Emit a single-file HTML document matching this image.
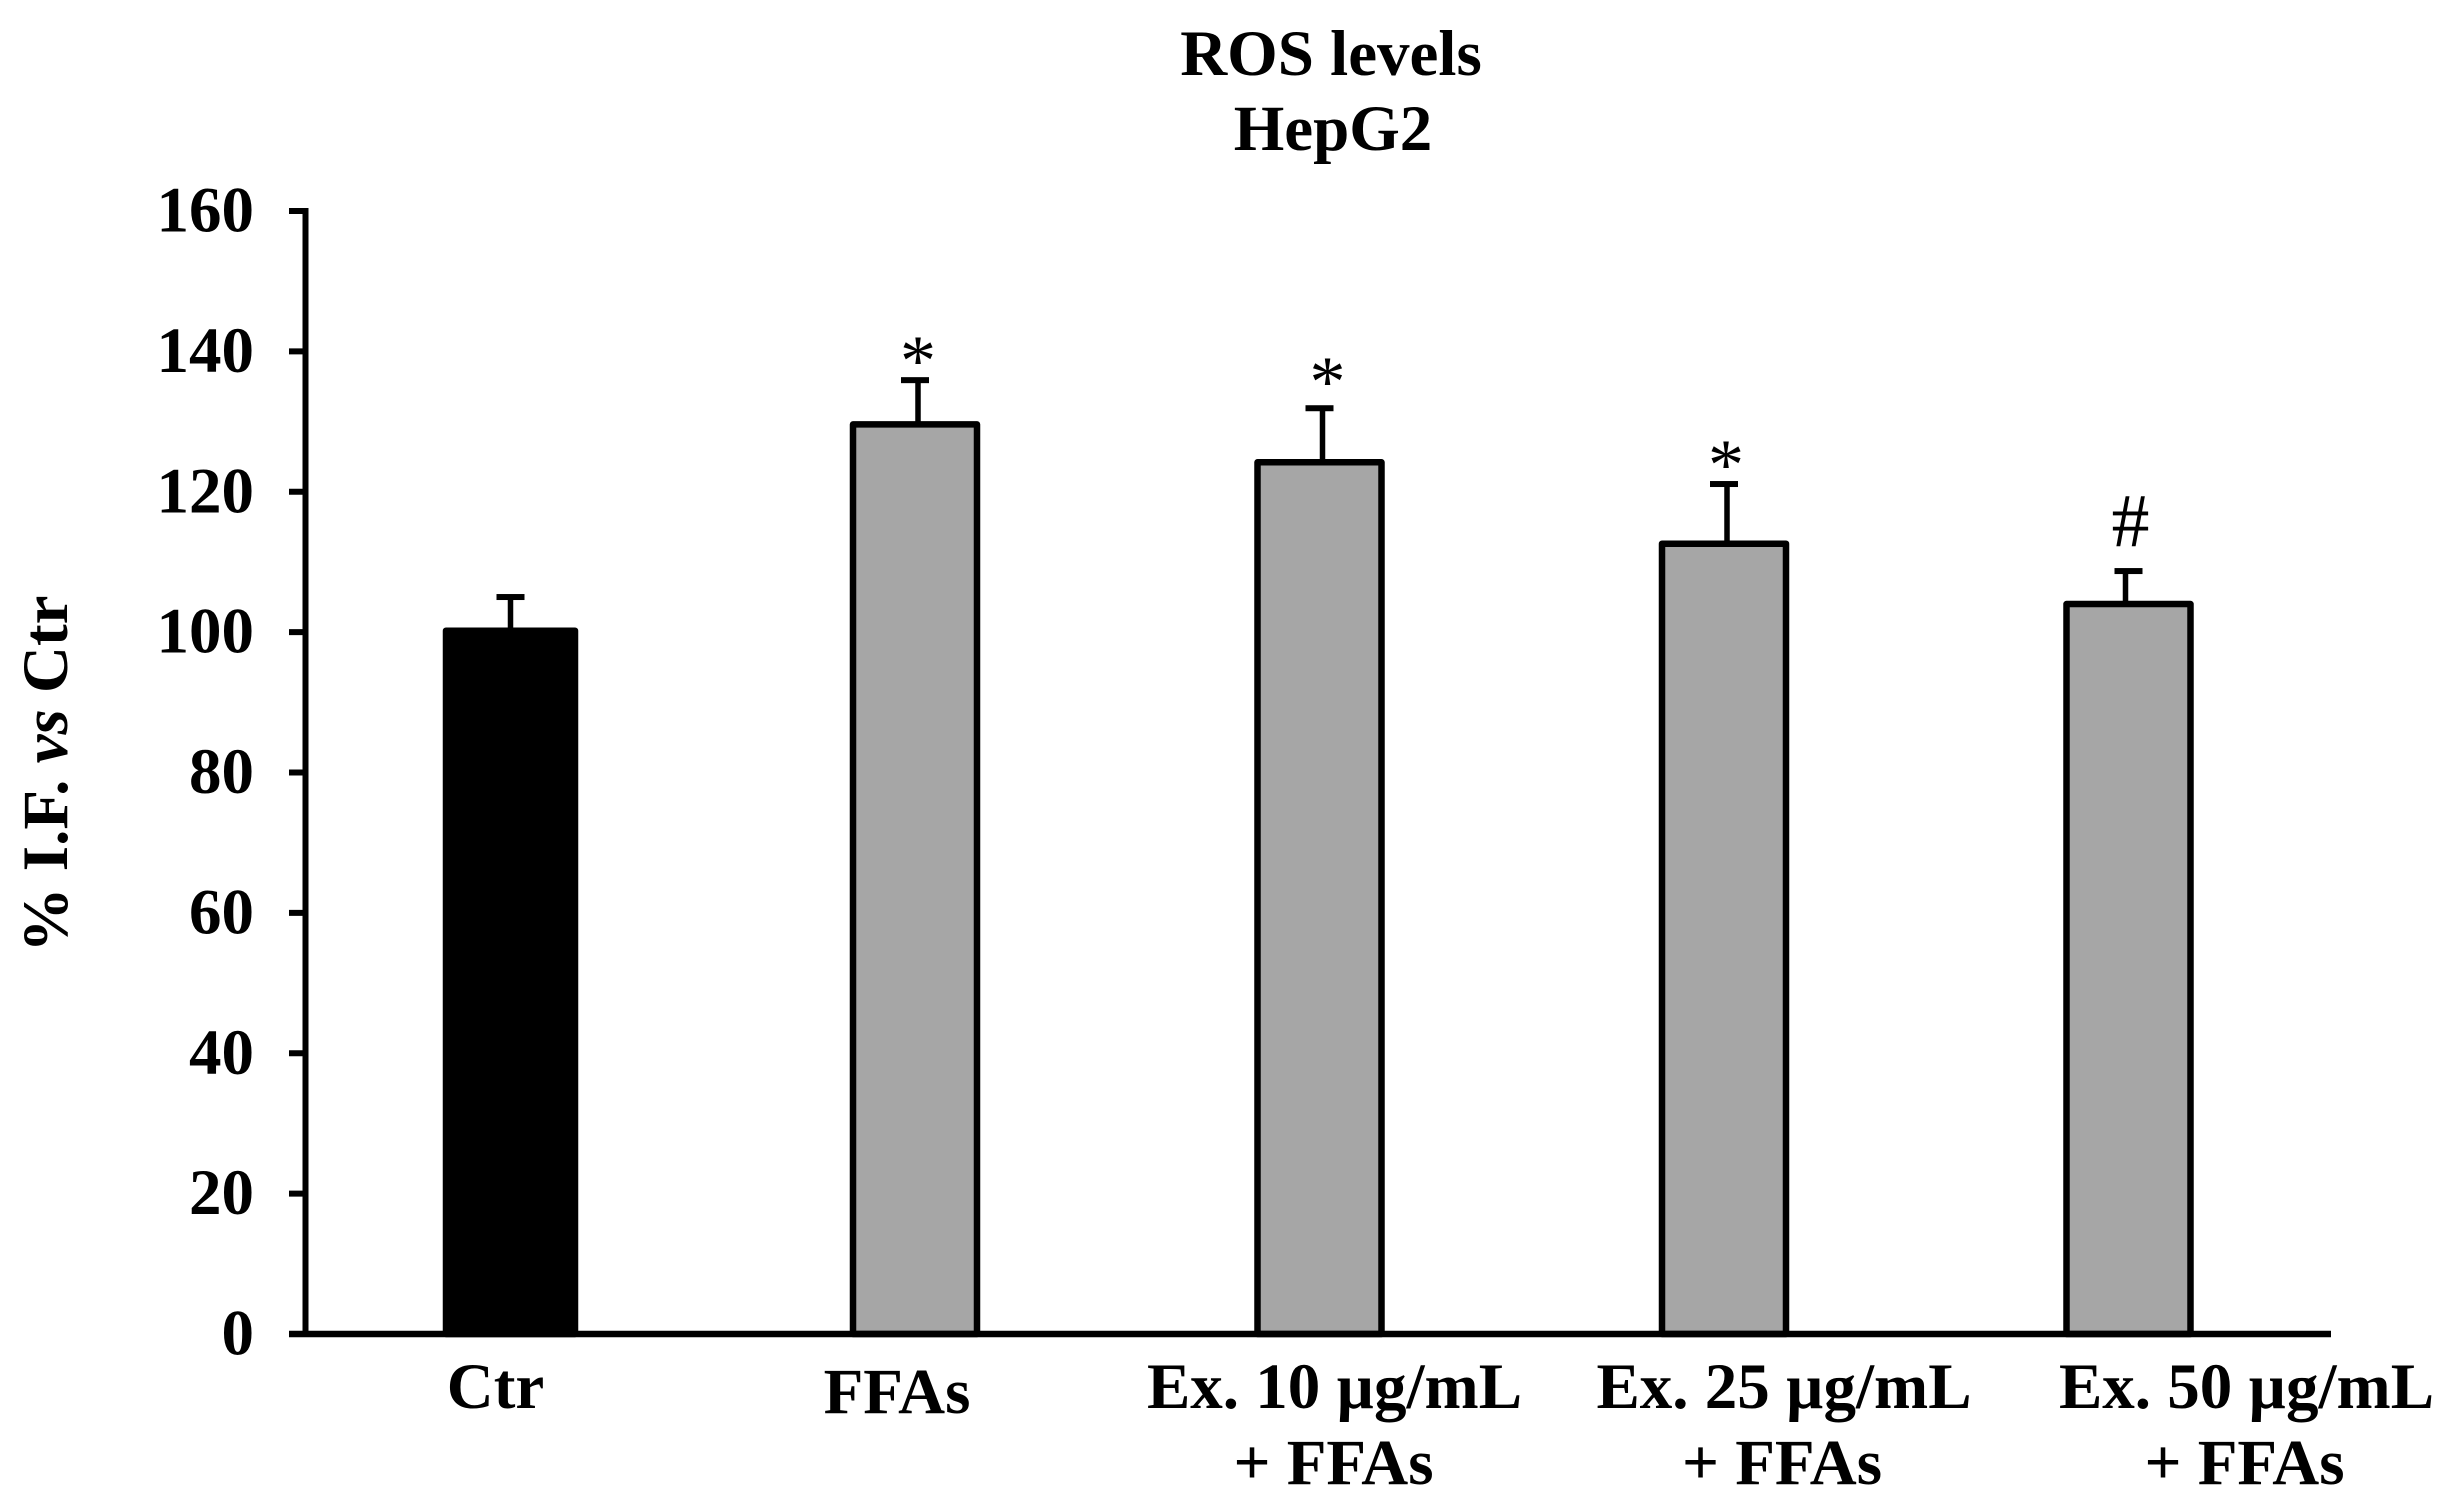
<!DOCTYPE html>
<html lang="en">
<head>
<meta charset="utf-8">
<title>ROS levels HepG2</title>
<style>
  html, body { margin: 0; padding: 0; background: #fff; }
  body { width: 2452px; height: 1509px; overflow: hidden; }
  svg { display: block; }
  text { font-family: "Liberation Serif", "Times New Roman", serif; fill: #000; }
  .bold { font-weight: 700; font-size: 65px; }
</style>
</head>
<body>
<svg id="chart" xmlns="http://www.w3.org/2000/svg" width="2452" height="1509" viewBox="0 0 2452 1509">
  <rect x="0" y="0" width="2452" height="1509" fill="#ffffff"/>
  <text class="bold" x="1331" y="75" text-anchor="middle">ROS levels</text>
  <text class="bold" x="1333" y="150" text-anchor="middle">HepG2</text>
  <text class="bold" transform="translate(67 774) rotate(-90)" text-anchor="middle">% I.F. <tspan font-style="italic">vs</tspan> Ctr</text>
  <g id="bars"></g>
  <g id="errors"></g>
  <g id="marks"></g>
  <g id="axes"></g>
  <g id="cats"></g>
</svg>
<script>
const categories = ['Ctr', 'FFAs', 'Ex. 10 µg/mL', 'Ex. 25 µg/mL', 'Ex. 50 µg/mL'];
const categoriesLine2 = ['', '', '+ FFAs', '+ FFAs', '+ FFAs'];
const values = [100.2, 129.6, 124.2, 112.6, 104];
const errorValues = [4.8, 6.3, 7.7, 8.5, 4.7];
const significance = ['', '*', '*', '*', '#'];
const yTicks = [0, 20, 40, 60, 80, 100, 120, 140, 160];

const NS = 'http://www.w3.org/2000/svg';
const Y0 = 1334, YTOP = 211, YMAX = 160;
function yScale(v) { return Y0 - v * (Y0 - YTOP) / YMAX; }
function xScale(i) { return 510.5 + 404.5 * i; }
function stemNudge(i) { return i === 0 ? 0 : (i === 4 ? -3 : 3); }
function labelNudge(i) { return i === 0 ? -15 : i === 1 ? -18 : i === 2 ? 15 : i === 3 ? 60 : 118; }
function line2Nudge(i) { return i === 2 ? 14 : i === 3 ? 58 : 116; }
function labelBaseline(i) { return i === 1 ? 1413 : 1408; }
function markOffset(i) { return i === 4 ? -25 : i === 2 ? -24 : -17; }
function markNudge(i) { return i === 1 ? 3 : i === 2 ? 8 : i === 3 ? 2 : 2; }
function make(tag, attrs, parent) {
  const el = document.createElementNS(NS, tag);
  for (const k in attrs) el.setAttribute(k, attrs[k]);
  parent.appendChild(el);
  return el;
}
const barsG = document.getElementById('bars');
const errG = document.getElementById('errors');
const marksG = document.getElementById('marks');
const axesG = document.getElementById('axes');
const catsG = document.getElementById('cats');

values.forEach(function (v, i) {
  const cx = xScale(i);
  const w = i === 0 ? 129 : 124;
  const top = yScale(v);

  const errTop = yScale(v + errorValues[i]);
  const stem = make('rect', { x: cx + stemNudge(i) - 2.75, y: errTop, width: 5.5, height: top - errTop, fill: '#000' }, errG);
  
  
  const cap = make('rect', { x: cx - 14, y: errTop - 3, width: 28, height: 6, fill: '#000' }, errG);
  
  

  const bar = make('rect', {
    x: cx - w / 2, y: top, width: w, height: Y0 - top,
    fill: i === 0 ? '#000000' : '#a6a6a6', stroke: '#000', 'stroke-width': 6.5, 'stroke-linejoin': 'round'
  }, barsG);
  
  

  if (significance[i]) {
    const mark = make('text', {
      x: cx + markNudge(i), y: errTop + markOffset(i) + (significance[i] === '#' ? 0 : 22),
      'text-anchor': 'middle', 'font-size': significance[i] === '#' ? 76 : 72
    }, marksG);
    mark.textContent = significance[i];
    
    
  }

  const lab = make('text', { x: cx + labelNudge(i), y: labelBaseline(i), 'text-anchor': 'middle', class: 'bold' }, catsG);
  lab.textContent = categories[i];
  
  
  if (categoriesLine2[i]) {
    const lab2 = make('text', { x: cx + line2Nudge(i), y: 1484, 'text-anchor': 'middle', class: 'bold' }, catsG);
    lab2.textContent = categoriesLine2[i];
    
    
  }
});

const yAxis = make('rect', { x: 302.5, y: yScale(YMAX) - 3, width: 6, height: Y0 - yScale(YMAX) + 6, fill: '#000' }, axesG);


const xAxis = make('rect', { x: 289, y: Y0 - 3.25, width: 2042, height: 6.5, fill: '#000' }, axesG);



yTicks.forEach(function (t) {
  const y = yScale(t);
  const tick = make('rect', { x: 289, y: y - 3, width: 16, height: 6, fill: '#000' }, axesG);
  
  
  const lab = make('text', { x: 254, y: y + 20.5, 'text-anchor': 'end', class: 'bold' }, axesG);
  lab.textContent = String(t);
  
  
});
</script>
</body>
</html>
